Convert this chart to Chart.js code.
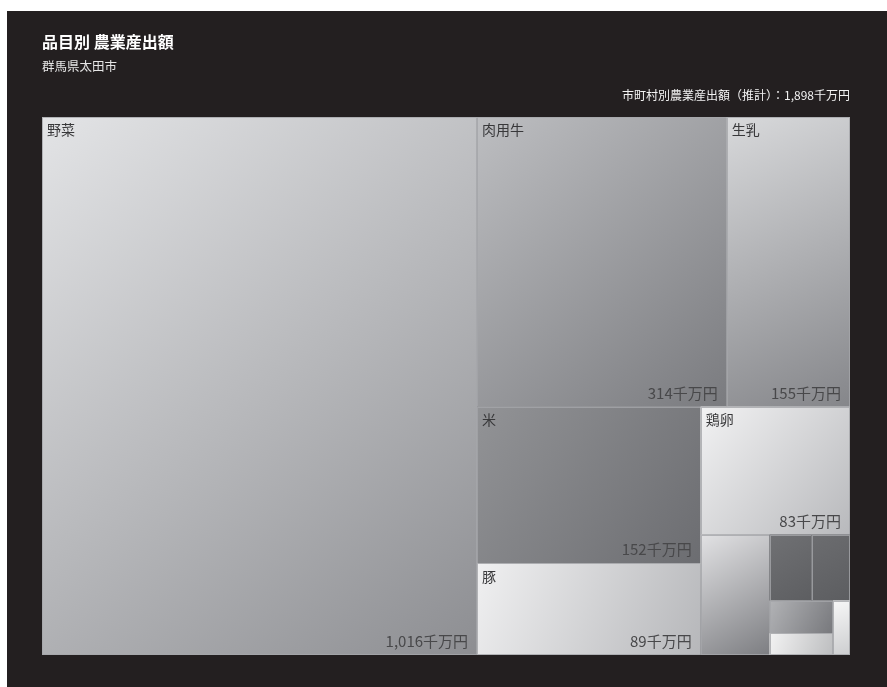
<!DOCTYPE html>
<html lang="ja">
<head>
<meta charset="utf-8">
<title>品目別 農業産出額</title>
<script src="https://cdn.jsdelivr.net/npm/chart.js@4"></script>
<style>
  html, body { margin: 0; padding: 0; background: #fff; }
  body { font-family: "Noto Sans CJK JP", "Noto Sans", sans-serif; }
  #panel { position: absolute; left: 7px; top: 11px; width: 880px; height: 676px; background: #231f20; }
  #panel canvas { position: absolute; left: 0; top: 0; }
  .title { position: absolute; left: 35px; top: 22px; color: #fff; font-size: 16px; line-height: 16px; font-weight: bold; }
  .subtitle { position: absolute; left: 35px; top: 49px; color: #e6e6e6; font-size: 12.5px; line-height: 12.5px; }
  .total { position: absolute; right: 37px; top: 78px; color: #f2f2f2; font-size: 12px; line-height: 12px; }
</style>
</head>
<body>
<div id="panel">
  <canvas id="treemap" width="880" height="676"></canvas>
  <div class="title">品目別 農業産出額</div>
  <div class="subtitle">群馬県太田市</div>
  <div class="total">市町村別農業産出額（推計）：1,898千万円</div>
</div>
<script>
// 品目と産出額（千万円）
const categories = ['野菜', '肉用牛', '生乳', '米', '豚', '鶏卵', '麦類', '花き', '果実', '豆類', 'いも類', '工芸農作物'];
const values = [1016, 314, 155, 152, 89, 83, 36, 12, 11, 9, 6, 4];
const unit = '千万円';

// how many items go in each strip; strips alternate column / row
const stripSizes = [1, 2, 2, 1, 1, 2, 2, 1];

// gradient per cell: top-left, bottom-right
const cellColors = [
    ['#e3e4e6', '#8d8e92'],
    ['#bdbec1', '#7a7b7f'],
    ['#d8d9db', '#85868a'],
    ['#929396', '#6c6d71'],
    ['#f0f0f1', '#b6b7ba'],
    ['#f2f2f3', '#b8b9bc'],
    ['#e2e2e4', '#7d7e82'],
    ['#707174', '#5d5e61'],
    ['#6c6d70', '#5c5d60'],
    ['#b2b3b6', '#77787c'],
    ['#f3f3f3', '#bcbdbf'],
    ['#f7f7f7', '#cdced0']
];

function sum(arr) {
    return arr.reduce((a, b) => a + b, 0);
}

// slice-and-dice strips in data space (0..1 on both axes)
function layoutStrips(vals, strips) {
    let x0 = 0, y0 = 0, x1 = 1, y1 = 1;
    let remaining = sum(vals);
    let idx = 0;
    let vertical = true;
    const cells = [];
    strips.forEach(n => {
        const group = vals.slice(idx, idx + n);
        const s = sum(group);
        if (vertical) {
            const w = (x1 - x0) * s / remaining;
            let y = y0;
            group.forEach((v, k) => {
                const h = (y1 - y0) * v / s;
                cells.push({ i: idx + k, x0: x0, x1: x0 + w, y0: y, y1: y + h });
                y += h;
            });
            x0 += w;
        } else {
            const h = (y1 - y0) * s / remaining;
            let x = x0;
            group.forEach((v, k) => {
                const w = (x1 - x0) * v / s;
                cells.push({ i: idx + k, x0: x, x1: x + w, y0: y0, y1: y0 + h });
                x += w;
            });
            y0 += h;
        }
        remaining -= s;
        idx += n;
        vertical = !vertical;
    });
    return cells;
}

const cells = layoutStrips(values, stripSizes).map(c => ({
    x: (c.x0 + c.x1) / 2,
    y: (c.y0 + c.y1) / 2,
    ...c
}));

function formatValue(v) {
    return v.toLocaleString('ja-JP') + unit;
}

const treemapCells = {
    id: 'treemapCells',
    beforeDatasetsDraw(chart) {
        const ctx = chart.ctx;
        const xs = chart.scales.x;
        const ys = chart.scales.y;
        ctx.save();
        chart.data.datasets[0].data.forEach(c => {
            const l = xs.getPixelForValue(c.x0);
            const r = xs.getPixelForValue(c.x1);
            const t = ys.getPixelForValue(c.y0);
            const b = ys.getPixelForValue(c.y1);
            const grad = ctx.createLinearGradient(l, t, r, b);
            grad.addColorStop(0, cellColors[c.i][0]);
            grad.addColorStop(1, cellColors[c.i][1]);
            ctx.fillStyle = grad;
            ctx.fillRect(l, t, r - l, b - t);
            ctx.strokeStyle = 'rgba(165,166,170,0.8)';
            ctx.lineWidth = 1;
            ctx.strokeRect(Math.round(l) + 0.5, Math.round(t) + 0.5, Math.round(r - l) - 1, Math.round(b - t) - 1);

            if (r - l >= 90 && b - t >= 60) {
                ctx.fillStyle = '#38383a';
                ctx.font = '14px "Noto Sans CJK JP", sans-serif';
                ctx.textAlign = 'left';
                ctx.textBaseline = 'top';
                ctx.fillText(categories[c.i], l + 5, t + 6);
                ctx.fillStyle = '#48484a';
                ctx.font = '15px "Noto Sans CJK JP", sans-serif';
                ctx.textAlign = 'right';
                ctx.textBaseline = 'alphabetic';
                ctx.fillText(formatValue(values[c.i]), r - 9, b - 8);
            }
        });
        ctx.restore();
    }
};

new Chart(document.getElementById('treemap'), {
    type: 'scatter',
    data: {
        datasets: [{
            label: '農業産出額',
            data: cells,
            pointRadius: 0,
            pointHoverRadius: 0
        }]
    },
    options: {
        responsive: false,
        animation: false,
        layout: { padding: { left: 35, top: 106, right: 37, bottom: 32 } },
        scales: {
            x: { type: 'linear', min: 0, max: 1, display: false },
            y: { type: 'linear', min: 0, max: 1, reverse: true, display: false }
        },
        plugins: {
            legend: { display: false },
            tooltip: { enabled: false }
        }
    },
    plugins: [treemapCells]
});
</script>
</body>
</html>
